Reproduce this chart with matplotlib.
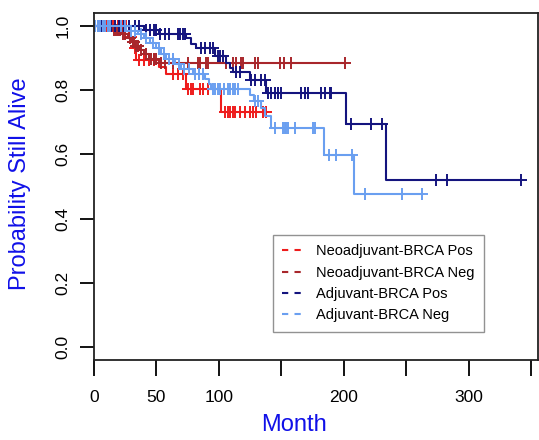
import numpy as np
import matplotlib.pyplot as plt
from matplotlib.lines import Line2D

plt.rcParams['font.family'] = ['Liberation Sans', 'DejaVu Sans']

# Kaplan-Meier curves (months, survival, censored times)
group_names = ["Neoadjuvant-BRCA Pos", "Neoadjuvant-BRCA Neg",
               "Adjuvant-BRCA Pos", "Adjuvant-BRCA Neg"]
group_colors = ["#ee1c1c", "#a8262b", "#14147e", "#6a9ff0"]

neo_pos_times = [28, 31, 34, 52, 58, 74, 102]
neo_pos_surv = [0.965, 0.93, 0.895, 0.873, 0.851, 0.804, 0.733]
neo_pos_censor = [5, 10, 15, 19, 21, 23, 26, 30, 33, 36, 40, 44, 48, 63, 67, 71,
                  75, 78, 79, 85, 87, 91, 105, 107, 109, 111, 113, 117, 121,
                  125, 127, 130, 135, 138]

neo_neg_times = [15, 22, 27, 30, 33, 37, 40, 44, 52]
neo_neg_surv = [0.988, 0.976, 0.963, 0.950, 0.937, 0.924, 0.911, 0.898, 0.885]
neo_neg_censor = [16, 18, 19, 21, 23, 25, 29, 31, 32, 34, 35, 38, 42, 46, 48, 50,
                  54, 57, 63, 75, 83, 85, 90, 91, 106, 111, 114, 118, 119, 129,
                  131, 149, 152, 158, 201]

adj_pos_times = [40, 52, 74, 78, 82, 97, 106, 109, 111, 125, 138, 202, 234]
adj_pos_surv = [0.988, 0.975, 0.961, 0.945, 0.930, 0.907, 0.885, 0.870, 0.855,
                0.830, 0.790, 0.693, 0.519]
adj_pos_censor = [3, 6, 8, 11, 14, 17, 20, 24, 28, 33, 36, 42, 45, 48, 50, 53, 57,
                  60, 67, 69, 71, 73, 86, 89, 93, 95, 99, 101, 103, 114, 117,
                  126, 129, 134, 137, 139, 142, 145, 147, 150, 166, 169, 171,
                  182, 185, 189, 190, 206, 222, 231, 274, 283, 342]

adj_neg_times = [26, 35, 40, 45, 50, 54, 58, 65, 70, 79, 89, 92, 94, 125, 128,
                 134, 137, 142, 184, 208]
adj_neg_surv = [0.985, 0.975, 0.963, 0.947, 0.930, 0.913, 0.897, 0.880, 0.865,
                0.850, 0.835, 0.820, 0.804, 0.785, 0.767, 0.745, 0.720, 0.683,
                0.599, 0.478]
adj_neg_censor = [1, 3, 5, 7, 9, 11, 13, 22, 25, 30, 33, 38, 42, 47, 52, 56, 60,
                  63, 68, 72, 76, 81, 84, 87, 95, 97, 99, 101, 104, 107, 109,
                  111, 113, 115, 129, 131, 145, 151, 153, 154, 155, 161, 175,
                  177, 188, 194, 207, 217, 247, 263]

groups = [
    (neo_pos_times, neo_pos_surv, neo_pos_censor),
    (neo_neg_times, neo_neg_surv, neo_neg_censor),
    (adj_pos_times, adj_pos_surv, adj_pos_censor),
    (adj_neg_times, adj_neg_surv, adj_neg_censor),
]

fig = plt.figure(figsize=(5.39, 4.40), dpi=100)
ax = fig.add_axes([94 / 539, 1 - 360 / 440, 444 / 539, 347 / 440])

for (times, surv, censor), col in zip(groups, group_colors):
    end = max(max(times), max(censor))
    xs = np.concatenate([[0], times, [end]])
    ys = np.concatenate([[1.0], surv, [surv[-1]]])
    ax.plot(xs, ys, drawstyle="steps-post", color=col, lw=1.5)
    # censor marks sit on the curve
    levels = np.concatenate([[1.0], surv])
    cy = levels[np.searchsorted(times, censor, side="right")]
    ax.plot(censor, cy, ls="none", marker="+", ms=8, mew=1.4, color=col)

ax.set_xlim(0, 355.6)
ax.set_ylim(-0.04, 1.04)

xt = [0, 50, 100, 150, 200, 250, 300, 350]
ax.set_xticks(xt)
ax.set_xticklabels(["0", "50", "100", "", "200", "", "300", ""])
yt = [0.0, 0.2, 0.4, 0.6, 0.8, 1.0]
ax.set_yticks(yt)
ax.set_yticklabels([f"{v:.1f}" for v in yt], rotation=90, va="center")
ax.tick_params(axis="x", length=11.5, width=1.3, labelsize=12.5, pad=10)
ax.tick_params(axis="y", length=10, width=1.3, labelsize=12.5, pad=7)
for sp in ax.spines.values():
    sp.set_linewidth(1.3)
    sp.set_color("#222222")

fig.text(294 / 539, 1 - 425 / 440, "Month", color="#1010e8", fontsize=17,
         ha="center", va="center")
fig.text(20 / 539, 1 - 184 / 440, "Probability Still Alive", color="#1010e8",
         fontsize=17, ha="center", va="center", rotation=90)

handles = [Line2D([0], [0], color=c, lw=1.5, ls=(0, (3, 3))) for c in group_colors]
leg = ax.legend(handles, group_names, loc="upper left",
                bbox_to_anchor=((273 - 94) / 444, (360 - 235) / 347),
                fontsize=10.5, frameon=True, fancybox=False, handlelength=1.6,
                handletextpad=0.7, labelspacing=0.5, borderpad=0.65,
                borderaxespad=0)
leg.get_frame().set_edgecolor("#777777")
leg.get_frame().set_linewidth(1.0)

fig.savefig("out.png", dpi=100)
